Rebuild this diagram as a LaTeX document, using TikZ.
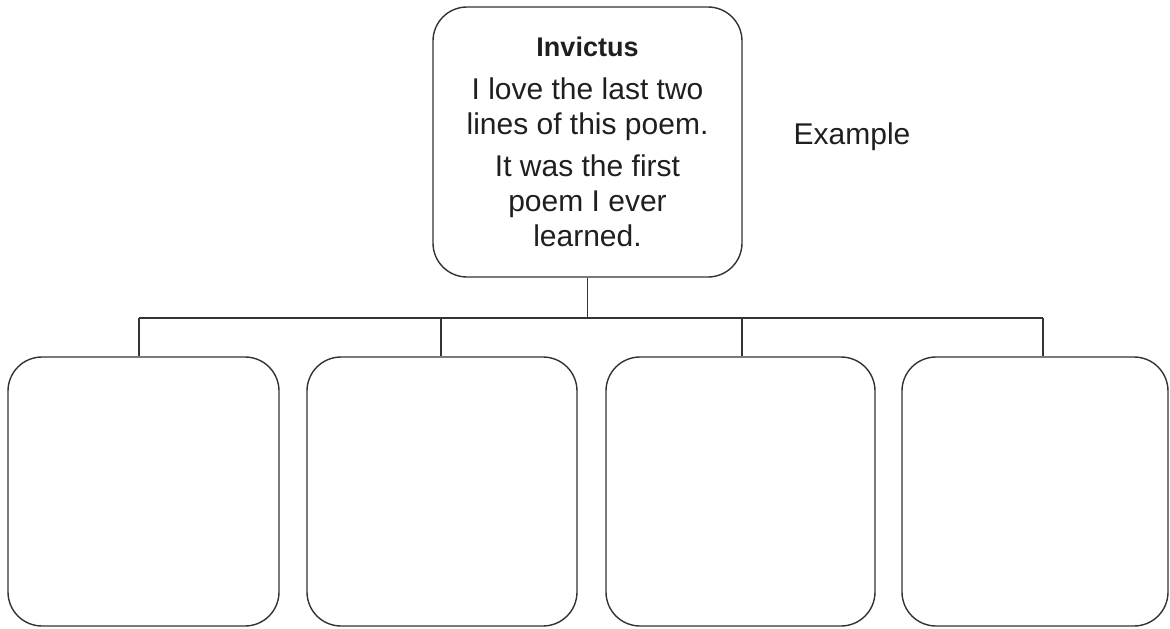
\documentclass[tikz,border=0pt]{standalone}
\usepackage{fontspec}
\setmainfont{Liberation Sans}
\begin{document}
\begin{tikzpicture}[x=1pt,y=-1pt,
  box/.style={draw=black!80,line width=1.4pt,rounded corners=34pt,inner sep=0pt},
  conn/.style={draw=black!80,line width=1.4pt},
  txt/.style={font=\fontsize{30}{35}\selectfont,text=black!88}]
\useasboundingbox (0,0) rectangle (1170,629);
\node[box,txt,align=center,minimum width=309pt,minimum height=270pt] (top) at (587.5,142)
  {{\bfseries\fontsize{27}{35}\selectfont Invictus}\\[8pt]
   I love the last two\\
   lines of this poem.\\[7pt]
   It was the first\\
   poem I ever\\
   learned.};
\node[txt] (example) at (852,137) {Example};
\node[box,minimum width=271pt,minimum height=269pt] (b1) at (143.5,491.5) {};
\node[box,minimum width=270pt,minimum height=269pt] (b2) at (442,491.5) {};
\node[box,minimum width=269pt,minimum height=269pt] (b3) at (740.5,491.5) {};
\node[box,minimum width=266pt,minimum height=269pt] (b4) at (1035,491.5) {};
\coordinate (s1) at (139,318);
\coordinate (s2) at (441,318);
\coordinate (s3) at (742,318);
\coordinate (s4) at (1043,318);
\draw[conn] (top.south) -- (top.south |- s1);
\draw[conn] (s1) -- (s4);
\draw[conn] (s1) -- (s1 |- b1.north);
\draw[conn] (s2) -- (s2 |- b2.north);
\draw[conn] (s3) -- (s3 |- b3.north);
\draw[conn] (s4) -- (s4 |- b4.north);
\end{tikzpicture}
\end{document}
